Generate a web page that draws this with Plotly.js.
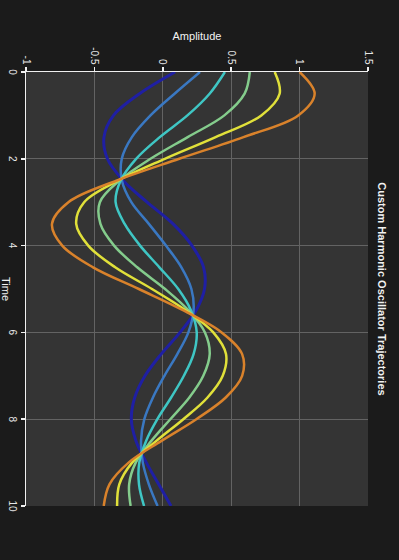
<!DOCTYPE html>
<html>
<head>
<meta charset="utf-8">
<script src="https://cdn.plot.ly/plotly-3.0.1.min.js"></script>
<style>
  html, body { margin: 0; padding: 0; background: #1b1b1b; width: 399px; height: 560px; overflow: hidden; }
  #chart {
    position: absolute; left: 0; top: 0;
    width: 560px; height: 399px;
    transform-origin: 0 0;
    transform: translate(399px, 0) rotate(90deg);
  }
</style>
</head>
<body>
<div id="chart"></div>
<script>
// Time samples
const time = [0, 0.5, 1, 1.5, 2, 2.5, 3, 3.5, 4, 4.5, 5, 5.5, 6, 6.5, 7, 7.5, 8, 8.5, 9, 9.5, 10];

// Amplitude trajectories (one per initial displacement)
const traj1 = [0.09, -0.17, -0.36, -0.43, -0.405, -0.29, -0.115, 0.075, 0.213, 0.298, 0.305, 0.242, 0.126, -0.012, -0.13, -0.205, -0.23, -0.196, -0.12, -0.03, 0.06];
const traj2 = [0.272, 0.086, -0.09, -0.226, -0.30, -0.299, -0.23, -0.102, 0.023, 0.136, 0.209, 0.225, 0.187, 0.106, 0.012, -0.072, -0.135, -0.159, -0.146, -0.102, -0.038];
const traj3 = [0.454, 0.342, 0.18, -0.022, -0.195, -0.308, -0.345, -0.279, -0.166, -0.025, 0.113, 0.207, 0.248, 0.225, 0.154, 0.061, -0.04, -0.122, -0.172, -0.174, -0.137];
const traj4 = [0.636, 0.598, 0.45, 0.182, -0.09, -0.317, -0.46, -0.456, -0.356, -0.187, 0.017, 0.19, 0.308, 0.343, 0.296, 0.194, 0.055, -0.084, -0.198, -0.246, -0.235];
const traj5 = [0.818, 0.854, 0.72, 0.386, 0.015, -0.326, -0.575, -0.633, -0.545, -0.348, -0.079, 0.172, 0.369, 0.462, 0.438, 0.327, 0.15, -0.047, -0.224, -0.318, -0.334];
const traj6 = [1.00, 1.11, 0.99, 0.59, 0.12, -0.335, -0.69, -0.81, -0.735, -0.51, -0.175, 0.155, 0.43, 0.58, 0.58, 0.46, 0.245, -0.01, -0.25, -0.39, -0.432];

const series = [traj1, traj2, traj3, traj4, traj5, traj6];
const colors = ['#1f1fa3', '#3a78c2', '#3fc6c4', '#84cc8c', '#e0e03a', '#d9822b'];
const widths = [3, 2.5, 2.5, 2.5, 2.5, 2.5];

// Axis ticks
const xTicks = [0, 2, 4, 6, 8, 10];
const yTicks = [-1, -0.5, 0, 0.5, 1, 1.5];

const traces = series.map((ys, i) => ({
  x: time,
  y: ys,
  type: 'scatter',
  mode: 'lines',
  line: { color: colors[i], width: widths[i], shape: 'spline', smoothing: 1 },
  hoverinfo: 'skip',
  showlegend: false
}));

const layout = {
  width: 560,
  height: 399,
  margin: { l: 72, r: 54, t: 31, b: 26 },
  paper_bgcolor: '#1b1b1b',
  plot_bgcolor: '#343434',
  font: { family: 'Arial, "Liberation Sans", sans-serif', color: '#e6e6e6', size: 10 },
  title: {
    text: '<b>Custom Harmonic Oscillator Trajectories</b>',
    font: { size: 11, color: '#f2f2f2' },
    x: 0.5, xref: 'paper',
    y: 0.958, yref: 'container', yanchor: 'middle'
  },
  xaxis: {
    range: [0, 10],
    tickvals: xTicks,
    ticks: 'outside', ticklen: 4, tickcolor: '#f0f0f0', tickwidth: 1.5,
    showline: true, linecolor: '#f0f0f0', linewidth: 1.5,
    gridcolor: '#636363', gridwidth: 1,
    zeroline: false,
    tickfont: { size: 10, color: '#e6e6e6' },
    title: { text: 'Time', font: { size: 11, color: '#f2f2f2' } }
  },
  yaxis: {
    range: [-1, 1.5],
    tickvals: yTicks,
    ticktext: yTicks.map(String),
    ticks: 'outside', ticklen: 4, tickcolor: '#f0f0f0', tickwidth: 1.5,
    showline: true, linecolor: '#f0f0f0', linewidth: 1.5,
    gridcolor: '#636363', gridwidth: 1,
    zeroline: false,
    tickfont: { size: 10, color: '#e6e6e6' },
    title: { text: 'Amplitude', font: { size: 11, color: '#f2f2f2' } }
  }
};

Plotly.newPlot('chart', traces, layout, { staticPlot: true, displayModeBar: false });
</script>
</body>
</html>
